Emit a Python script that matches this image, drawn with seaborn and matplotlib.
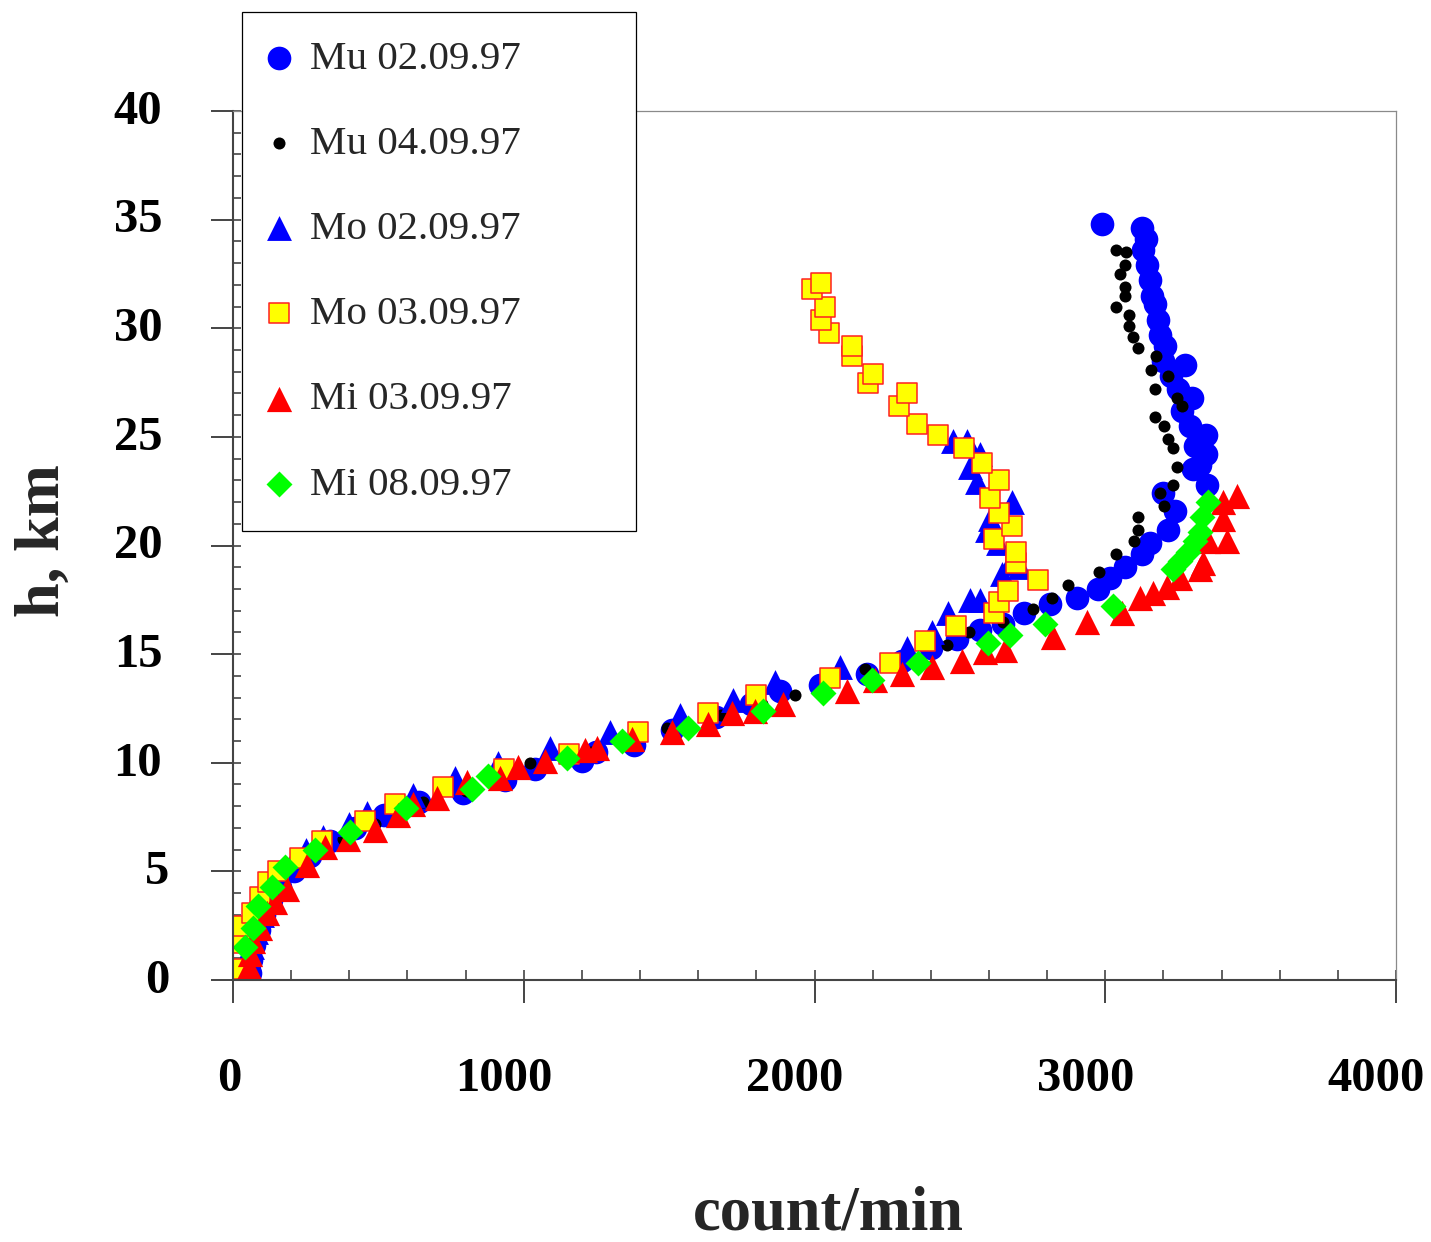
import numpy as np
import pandas as pd
import matplotlib
matplotlib.use("Agg")
import matplotlib.pyplot as plt
import matplotlib.transforms as mtransforms
from matplotlib.ticker import MultipleLocator, FixedLocator
import seaborn as sns

# ---------------- data (count/min vs altitude h, km) ----------------
mu0209_h = [0.3, 0.9, 1.6, 2.3, 3.0, 3.7, 4.3, 5.0, 5.7, 6.4, 7.0, 7.6, 8.2, 8.6, 9.2, 9.7,
            10.1, 10.5, 10.8, 11.5, 12.1, 12.7, 13.3, 13.6, 14.1, 14.7, 15.3, 15.7, 16.1, 16.4,
            16.9, 17.3, 17.6, 18.0, 18.5, 19.0, 19.6, 20.1, 20.7, 21.6, 22.4, 22.8, 23.5, 23.7,
            24.2, 24.6, 25.1, 25.5, 26.2, 26.8, 27.2, 27.8, 28.3, 28.5, 29.2, 29.7, 30.4, 31.1,
            31.5, 32.2, 32.9, 33.6, 34.1, 34.6, 34.8]
mu0209_v = [60, 62, 72, 88, 105, 130, 160, 210, 265, 335, 420, 520, 640, 790, 935, 1040,
            1200, 1250, 1380, 1510, 1660, 1780, 1880, 2020, 2180, 2300, 2400, 2490, 2570, 2650,
            2720, 2810, 2903, 2975, 3016, 3068, 3126, 3154, 3216, 3240, 3199, 3350, 3302, 3325,
            3345, 3310, 3345, 3290, 3265, 3300, 3250, 3225, 3275, 3200, 3205, 3190, 3180, 3170,
            3160, 3155, 3145, 3130, 3140, 3125, 2990]

mu0409_h = [0.3, 1.0, 1.8, 2.6, 3.4, 4.2, 5.0, 5.8, 6.5, 7.2, 8.2, 8.7, 9.3, 10.0, 10.5, 11.0,
            11.6, 12.2, 12.7, 13.1, 14.3, 15.4, 16.0, 16.5, 17.1, 17.6, 18.2, 18.8, 19.6, 20.2,
            20.7, 21.3, 21.8, 22.4, 22.8, 23.6, 24.5, 24.9, 25.5, 25.9, 26.4, 26.8, 27.2, 27.8,
            28.1, 28.7, 29.1, 29.6, 30.1, 30.6, 31.0, 31.5, 31.9, 32.5, 32.9, 33.5, 33.6]
mu0409_v = [55, 60, 75, 95, 125, 165, 220, 290, 380, 488, 653, 800, 920, 1021, 1230, 1380,
            1493, 1680, 1820, 1933, 2174, 2456, 2531, 2648, 2752, 2817, 2872, 2978, 3037, 3099,
            3113, 3113, 3202, 3188, 3233, 3247, 3233, 3216, 3202, 3171, 3264, 3247, 3171, 3216,
            3157, 3175, 3113, 3096, 3082, 3082, 3037, 3068, 3068, 3051, 3068, 3071, 3037]

mo0209_h = [0.2, 0.8, 1.5, 2.2, 3.0, 3.8, 4.5, 5.3, 6.0, 6.6, 7.2, 7.7, 8.5, 9.3, 10.0, 10.7,
            11.4, 12.2, 12.9, 13.7, 14.4, 15.3, 16.0, 16.9, 17.5, 17.5, 18.7, 19.0, 19.2, 20.1,
            20.7, 21.2, 22.0, 22.9, 23.6, 24.2, 24.8, 24.8]
mo0209_v = [45, 55, 65, 80, 100, 125, 160, 200, 250, 310, 400, 461, 620, 764, 911, 1090,
            1297, 1537, 1720, 1864, 2088, 2318, 2404, 2459, 2535, 2569, 2645, 2707, 2672, 2631,
            2593, 2604, 2679, 2559, 2535, 2569, 2524, 2476]

mo0309_h = [0.5, 1.7, 2.5, 3.1, 3.8, 4.5, 5.0, 5.6, 6.4, 7.3, 8.1, 8.9, 9.7, 10.4, 11.4, 12.3,
            13.1, 13.9, 14.6, 15.6, 16.3, 16.9, 17.4, 17.9, 18.4, 19.2, 19.7, 20.3, 20.9, 21.5,
            22.2, 23.0, 23.8, 24.5, 25.1, 25.6, 26.4, 27.0, 27.5, 27.9, 28.7, 29.2, 29.8, 30.4,
            31.0, 31.8, 32.1]
mo0309_v = [34, 28, 35, 65, 93, 120, 155, 230, 306, 454, 557, 722, 932, 1156, 1393, 1634,
            1799, 2053, 2260, 2380, 2487, 2617, 2635, 2665, 2769, 2693, 2693, 2617, 2679, 2635,
            2604, 2635, 2576, 2514, 2425, 2353, 2291, 2318, 2184, 2201, 2129, 2129, 2050, 2022,
            2036, 1991, 2022]

mi0309_h = [0.6, 1.2, 1.8, 2.4, 3.1, 3.6, 4.2, 5.3, 6.1, 6.5, 6.9, 7.6, 8.1, 8.4, 9.1, 9.3,
            9.8, 10.1, 10.6, 10.7, 11.1, 11.4, 11.8, 12.3, 12.4, 12.7, 13.3, 13.8, 14.1, 14.4,
            14.7, 15.1, 15.2, 15.8, 16.5, 16.9, 17.6, 17.8, 18.1, 18.5, 18.9, 19.2, 20.2, 20.2,
            21.2, 22.0, 22.3]
mi0309_v = [55, 60, 69, 93, 117, 144, 186, 255, 316, 396, 488, 568, 619, 702, 805, 918,
            980, 1073, 1211, 1252, 1372, 1510, 1634, 1716, 1795, 1892, 2112, 2208, 2301, 2404,
            2507, 2586, 2655, 2820, 2937, 3058, 3120, 3164, 3212, 3257, 3326, 3336, 3354, 3419,
            3405, 3405, 3453]

mi0809_h = [1.5, 2.4, 3.4, 4.3, 5.2, 6.0, 6.8, 7.9, 8.8, 9.4, 10.2, 11.0, 11.6, 12.4, 13.2,
            13.8, 14.6, 15.5, 15.9, 16.4, 17.2, 18.9, 19.3, 19.7, 20.2, 20.6, 21.3, 22.0]
mi0809_v = [41, 69, 86, 134, 179, 282, 402, 595, 822, 877, 1149, 1338, 1565, 1823, 2029,
            2198, 2356, 2597, 2672, 2793, 3027, 3233, 3257, 3285, 3309, 3326, 3333, 3354]

labels = ["Mu 02.09.97", "Mu 04.09.97", "Mo 02.09.97", "Mo 03.09.97", "Mi 03.09.97", "Mi 08.09.97"]
series = [(mu0209_v, mu0209_h), (mu0409_v, mu0409_h), (mo0209_v, mo0209_h),
          (mo0309_v, mo0309_h), (mi0309_v, mi0309_h), (mi0809_v, mi0809_h)]

xticks = [0, 1000, 2000, 3000, 4000]
yticks = [0, 5, 10, 15, 20, 25, 30, 35, 40]

# ---------------- styling ----------------
sns.set_theme(style="white")
plt.rcParams["font.family"] = ["Liberation Serif", "DejaVu Serif"]

W, H, DPI = 1431, 1242, 100
fig = plt.figure(figsize=(W / DPI, H / DPI), dpi=DPI)
ax = fig.add_axes([233 / W, 1 - 980 / H, (1396 - 233) / W, (980 - 111) / H])

styles = [
    dict(marker="o", color="#0000FF", s=290, edgecolor="#0000FF", linewidth=0),
    dict(marker="o", color="#000000", s=75, edgecolor="#000000", linewidth=0),
    dict(marker="^", color="#0000FF", s=320, edgecolor="#0000FF", linewidth=0),
    dict(marker="s", color="#FFFF00", s=215, edgecolor="#FF2020", linewidth=1.1),
    dict(marker="^", color="#FF0000", s=330, edgecolor="#FF0000", linewidth=0),
    dict(marker="D", color="#00FF00", s=175, edgecolor="#00FF00", linewidth=0),
]

for (v, h), lab, st in zip(series, labels, styles):
    df = pd.DataFrame({"count": v, "h": h})
    sns.scatterplot(data=df, x="count", y="h", ax=ax, label=lab, **st)

ax.set_xlim(0, 4000)
ax.set_ylim(0, 40)
ax.xaxis.set_major_locator(FixedLocator(xticks))
ax.yaxis.set_major_locator(FixedLocator(yticks))
ax.xaxis.set_minor_locator(MultipleLocator(200))
ax.yaxis.set_minor_locator(MultipleLocator(1))
ax.xaxis.remove_overlapping_locs = False
ax.yaxis.remove_overlapping_locs = False
ax.set_xticklabels([str(t) for t in xticks])
ax.set_yticklabels([str(t) for t in yticks])

tick_col = "#444444"
ax.tick_params(axis="both", which="both", colors=tick_col, labelcolor="black")
ax.tick_params(axis="y", which="major", direction="out", length=16, width=1.4, pad=34,
               labelsize=35, left=True)
ax.tick_params(axis="y", which="minor", direction="in", length=5.8, width=1.2, left=True)
ax.tick_params(axis="x", which="major", direction="out", length=16.5, width=1.4, pad=39,
               labelsize=35, bottom=True)
ax.tick_params(axis="x", which="minor", direction="in", length=7.2, width=1.2, bottom=True)
for lab in ax.get_xticklabels() + ax.get_yticklabels():
    lab.set_fontweight("bold")

# slight label offsets as in the reference
for tick, t in zip(ax.xaxis.get_major_ticks(), xticks):
    dx = -3 if t == 0 else -14
    tick.label1.set_transform(tick.label1.get_transform() +
                              mtransforms.ScaledTranslation(dx / 72, 0, fig.dpi_scale_trans))
for tick, t in zip(ax.yaxis.get_major_ticks(), yticks):
    dx = 4 if t < 10 else -1
    tick.label1.set_transform(tick.label1.get_transform() +
                              mtransforms.ScaledTranslation(dx / 72, 3 / 72, fig.dpi_scale_trans))

for side in ["left", "bottom"]:
    ax.spines[side].set_color(tick_col)
    ax.spines[side].set_linewidth(1.5)
for side in ["top", "right"]:
    ax.spines[side].set_color("#8a8a8a")
    ax.spines[side].set_linewidth(0.9)

ax.set_xlabel("count/min", fontsize=45, fontweight="bold")
ax.set_ylabel("h, km", fontsize=45, fontweight="bold")
ax.xaxis.label.set_va("center")
ax.yaxis.label.set_va("center")
ax.xaxis.set_label_coords((828 - 233) / 1163, -(1215 - 980) / 869)
ax.yaxis.set_label_coords(-(233 - 44) / 1163, (980 - 541) / 869)

leg = ax.legend(loc="upper left",
                bbox_to_anchor=(242 / W, 1 - 12 / H, (636 - 242) / W, 0),
                bbox_transform=fig.transFigure, mode="expand", borderaxespad=0,
                fontsize=29.5, frameon=True, fancybox=False, framealpha=1,
                edgecolor="black", borderpad=0.68, labelspacing=1.16,
                handlelength=0.46, handletextpad=0.53, scatterpoints=1)
leg.get_frame().set_linewidth(0.9)

fig.savefig("out.png", dpi=DPI)
